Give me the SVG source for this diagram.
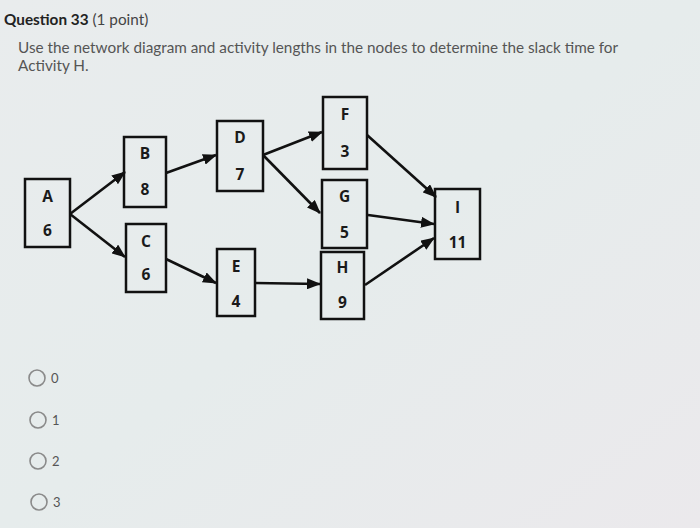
<svg xmlns="http://www.w3.org/2000/svg" width="700" height="528" viewBox="0 0 700 528">
  <defs>
    <linearGradient id="bg" x1="0" y1="0" x2="1" y2="1">
      <stop offset="0" stop-color="#e9eced"/>
      <stop offset="0.5" stop-color="#e6ecec"/>
      <stop offset="1" stop-color="#ebe9ec"/>
    </linearGradient>
    <marker id="arr" markerUnits="userSpaceOnUse" markerWidth="14" markerHeight="11" refX="13" refY="5.5" orient="auto">
      <path d="M0,0 L14,5.5 L0,11 z" fill="#111"/>
    </marker>
    <style>
      .box { fill: none; stroke: #111; stroke-width: 2.5; }
      .lbl { font-family: "Open Sans", "Liberation Sans", sans-serif; font-weight: bold; font-size: 15.5px; fill: #1a1a1a; text-anchor: middle; }
      .edge { stroke: #111; stroke-width: 2.6; fill: none; marker-end: url(#arr); }
      .radio { fill: none; stroke: #8a8a8a; stroke-width: 1.6; }
      .opt { font-family: "Lato", "Liberation Sans", sans-serif; font-size: 13px; fill: #555; }
      .body { font-family: "Lato", "Liberation Sans", sans-serif; font-size: 15.3px; fill: #555; }
    </style>
  </defs>
  <rect width="700" height="528" fill="url(#bg)"/>

  <text x="4" y="25" font-family="Lato, 'Liberation Sans', sans-serif" font-size="15.3px" fill="#222"><tspan font-weight="bold">Question 33</tspan><tspan fill="#444"> (1 point)</tspan></text>
  <text class="body" x="18" y="53">Use the network diagram and activity lengths in the nodes to determine the slack time for</text>
  <text class="body" x="18" y="71">Activity H.</text>

  <g id="connectors">
    <line class="edge" x1="70" y1="214" x2="125" y2="172"/>
    <line class="edge" x1="70" y1="214" x2="125" y2="257"/>
    <line class="edge" x1="166" y1="173" x2="216" y2="155"/>
    <line class="edge" x1="166" y1="259" x2="216" y2="283"/>
    <line class="edge" x1="263" y1="155" x2="322" y2="132"/>
    <line class="edge" x1="263" y1="155" x2="320" y2="213"/>
    <line class="edge" x1="255" y1="283" x2="320" y2="284"/>
    <line class="edge" x1="367" y1="135" x2="436" y2="197"/>
    <line class="edge" x1="368" y1="215" x2="434" y2="224"/>
    <line class="edge" x1="365" y1="285" x2="434" y2="238"/>
  </g>

  <g id="node-A">
    <rect class="box" x="25" y="179" width="45" height="68"/>
    <text class="lbl" x="47.5" y="202">A</text>
    <text class="lbl" x="47.5" y="236">6</text>
  </g>
  <g id="node-B">
    <rect class="box" x="124" y="137" width="42" height="70"/>
    <text class="lbl" x="145" y="159">B</text>
    <text class="lbl" x="145" y="195">8</text>
  </g>
  <g id="node-C">
    <rect class="box" x="126" y="224" width="40" height="68"/>
    <text class="lbl" x="146" y="247">C</text>
    <text class="lbl" x="146" y="280">6</text>
  </g>
  <g id="node-D">
    <rect class="box" x="217" y="121" width="46" height="70"/>
    <text class="lbl" x="240" y="143">D</text>
    <text class="lbl" x="240" y="180">7</text>
  </g>
  <g id="node-E">
    <rect class="box" x="217" y="249" width="38" height="67"/>
    <text class="lbl" x="236" y="272">E</text>
    <text class="lbl" x="236" y="307">4</text>
  </g>
  <g id="node-F">
    <rect class="box" x="323" y="97" width="44" height="72"/>
    <text class="lbl" x="345" y="120">F</text>
    <text class="lbl" x="345" y="157">3</text>
  </g>
  <g id="node-G">
    <rect class="box" x="322" y="180" width="45" height="68"/>
    <text class="lbl" x="344.5" y="202">G</text>
    <text class="lbl" x="344.5" y="238">5</text>
  </g>
  <g id="node-H">
    <rect class="box" x="321" y="252" width="43" height="67"/>
    <text class="lbl" x="342.5" y="273">H</text>
    <text class="lbl" x="342.5" y="308">9</text>
  </g>
  <g id="node-I">
    <rect class="box" x="435" y="189" width="45" height="70"/>
    <text class="lbl" x="457.5" y="213">I</text>
    <text class="lbl" x="457.5" y="248">11</text>
  </g>

  <g id="options">
    <circle class="radio" cx="37" cy="378" r="8"/>
    <text class="opt" x="51" y="383">0</text>
    <circle class="radio" cx="38" cy="420" r="8"/>
    <text class="opt" x="52" y="425">1</text>
    <circle class="radio" cx="38" cy="461" r="8"/>
    <text class="opt" x="52" y="466">2</text>
    <circle class="radio" cx="39" cy="502" r="8"/>
    <text class="opt" x="53" y="507">3</text>
  </g>
</svg>
